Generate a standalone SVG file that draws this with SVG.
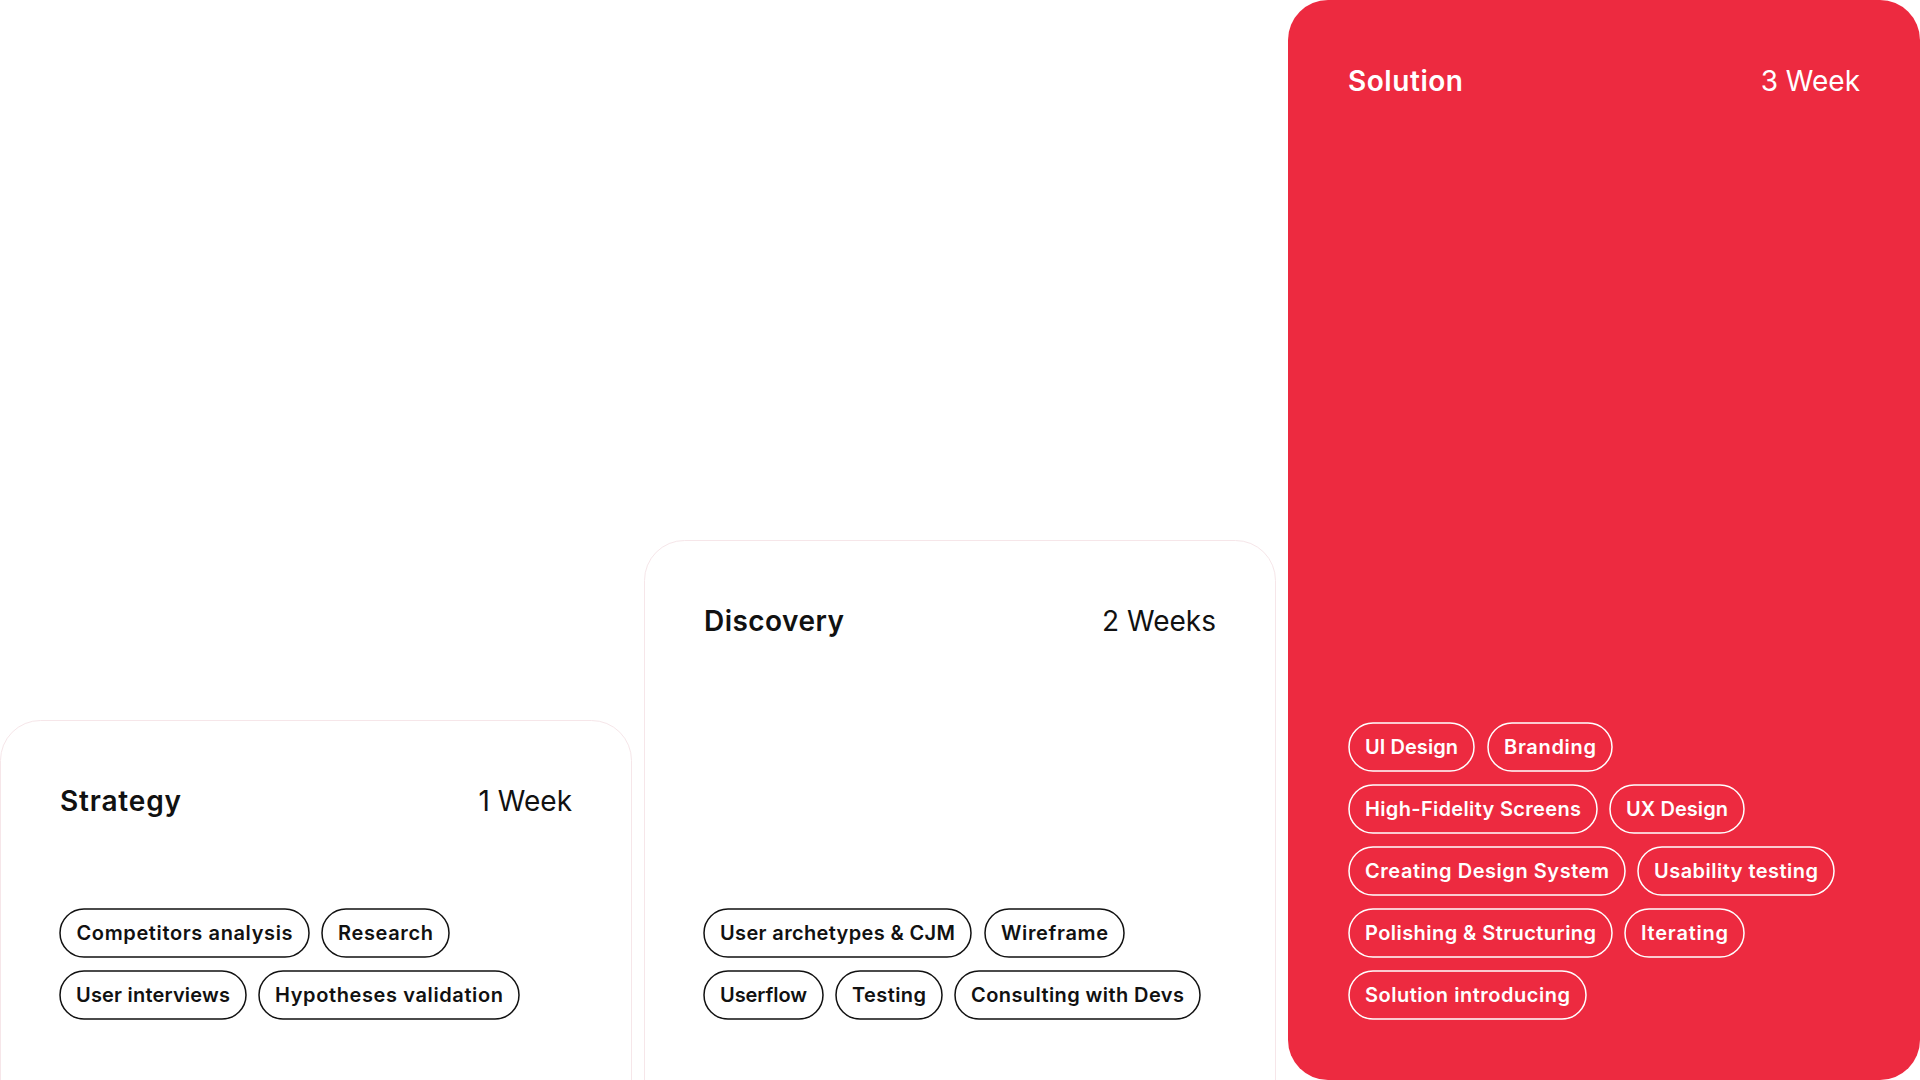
<svg xmlns="http://www.w3.org/2000/svg" width="1920" height="1080" viewBox="0 0 1920 1080">
<style>
.card{fill:#ffffff;stroke:#f6e6e9;stroke-width:1}
.red{fill:#ED2A40}
.title{font-family:Inter,"Noto Sans",sans-serif;font-weight:600;font-size:28px}
.dur{font-family:Inter,"Noto Sans",sans-serif;font-weight:400;font-size:28px;text-anchor:end}
.pill{fill:none;stroke:#111111;stroke-width:1.5}
.pillw{fill:none;stroke:#ffffff;stroke-width:1.5}
.pt{font-family:Inter,"Noto Sans",sans-serif;font-weight:600;font-size:20px;text-anchor:middle;fill:#111111}
.ptw{font-family:Inter,"Noto Sans",sans-serif;font-weight:600;font-size:20px;text-anchor:middle;fill:#ffffff}
</style>
<rect width="1920" height="1080" fill="#ffffff"/>
<g id="strategy">
<rect class="card" x="0.5" y="720.5" width="631" height="400" rx="40"/>
<text class="title" x="60" y="811" textLength="121" fill="#111">Strategy</text>
<text class="dur" x="572" y="811" fill="#111">1 Week</text>
<g id="strategy-tags">
<rect class="pill" x="60" y="909" width="249" height="48" rx="24"/>
<text class="pt" x="184.5" y="940" textLength="216">Competitors analysis</text>
<rect class="pill" x="322" y="909" width="127" height="48" rx="24"/>
<text class="pt" x="385.5" y="940" textLength="95">Research</text>
<rect class="pill" x="60" y="971" width="186" height="48" rx="24"/>
<text class="pt" x="153" y="1002" textLength="154">User interviews</text>
<rect class="pill" x="259" y="971" width="260" height="48" rx="24"/>
<text class="pt" x="389" y="1002" textLength="228">Hypotheses validation</text>
</g>
</g>
<g id="discovery">
<rect class="card" x="644.5" y="540.5" width="631" height="580" rx="40"/>
<text class="title" x="704" y="631" textLength="140" fill="#111">Discovery</text>
<text class="dur" x="1216" y="631" fill="#111">2 Weeks</text>
<g id="discovery-tags">
<rect class="pill" x="704" y="909" width="267" height="48" rx="24"/>
<text class="pt" x="837.5" y="940" textLength="235">User archetypes &amp; CJM</text>
<rect class="pill" x="985" y="909" width="139" height="48" rx="24"/>
<text class="pt" x="1054.5" y="940" textLength="107">Wireframe</text>
<rect class="pill" x="704" y="971" width="119" height="48" rx="24"/>
<text class="pt" x="763.5" y="1002" textLength="87">Userflow</text>
<rect class="pill" x="836" y="971" width="106" height="48" rx="24"/>
<text class="pt" x="889" y="1002" textLength="74">Testing</text>
<rect class="pill" x="955" y="971" width="245" height="48" rx="24"/>
<text class="pt" x="1077.5" y="1002" textLength="213">Consulting with Devs</text>
</g>
</g>
<g id="solution">
<rect class="red" x="1288" y="0" width="632" height="1080" rx="40"/>
<text class="title" x="1348" y="91" textLength="115" fill="#ffffff">Solution</text>
<text class="dur" x="1860" y="91" fill="#ffffff">3 Week</text>
<g id="solution-tags">
<rect class="pillw" x="1349" y="723" width="125" height="48" rx="24"/>
<text class="ptw" x="1411.5" y="754" textLength="93">UI Design</text>
<rect class="pillw" x="1488" y="723" width="124" height="48" rx="24"/>
<text class="ptw" x="1550" y="754" textLength="92">Branding</text>
<rect class="pillw" x="1349" y="785" width="248" height="48" rx="24"/>
<text class="ptw" x="1473" y="816" textLength="216">High-Fidelity Screens</text>
<rect class="pillw" x="1610" y="785" width="134" height="48" rx="24"/>
<text class="ptw" x="1677" y="816" textLength="102">UX Design</text>
<rect class="pillw" x="1349" y="847" width="276" height="48" rx="24"/>
<text class="ptw" x="1487" y="878" textLength="244">Creating Design System</text>
<rect class="pillw" x="1638" y="847" width="196" height="48" rx="24"/>
<text class="ptw" x="1736" y="878" textLength="164">Usability testing</text>
<rect class="pillw" x="1349" y="909" width="263" height="48" rx="24"/>
<text class="ptw" x="1480.5" y="940" textLength="231">Polishing &amp; Structuring</text>
<rect class="pillw" x="1625" y="909" width="119" height="48" rx="24"/>
<text class="ptw" x="1684.5" y="940" textLength="87">Iterating</text>
<rect class="pillw" x="1349" y="971" width="237" height="48" rx="24"/>
<text class="ptw" x="1467.5" y="1002" textLength="205">Solution introducing</text>
</g>
</g>
<g id="connectors"></g>
</svg>
